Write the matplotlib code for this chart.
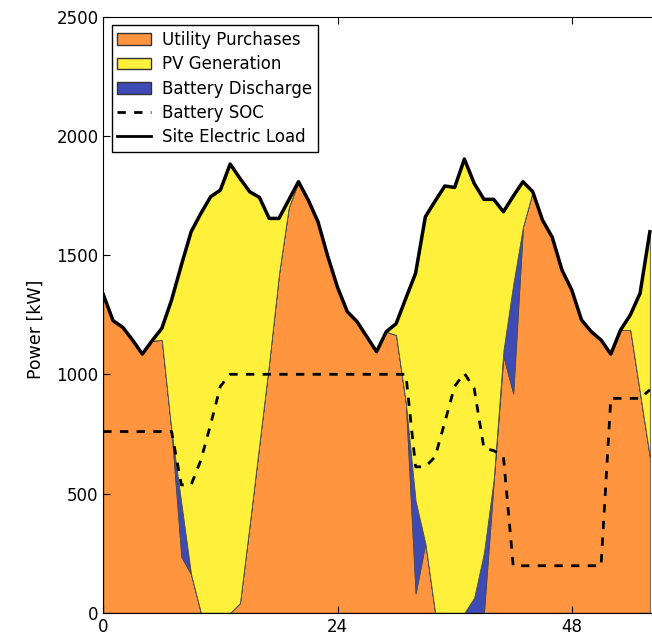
import matplotlib
matplotlib.use("Agg")
import matplotlib.pyplot as plt
import matplotlib.patches as mpatches
import matplotlib.lines as mlines
import numpy as np

# hourly dispatch, first 57 hours of the run
hours = list(range(57))

load = [1335, 1225, 1197, 1144, 1085, 1141, 1193, 1312, 1458, 1598,
        1675, 1745, 1773, 1882, 1822, 1766, 1742, 1654, 1654, 1731,
        1808, 1731, 1640, 1495, 1365, 1263, 1221, 1158, 1095, 1179,
        1212, 1319, 1424, 1661, 1727, 1790, 1784, 1903, 1801, 1734,
        1734, 1682, 1747, 1808, 1766, 1647, 1575, 1437, 1354, 1228,
        1179, 1144, 1085, 1186, 1249, 1340, 1598]

utility = [1335, 1225, 1197, 1144, 1085, 1141, 1144, 759, 235, 160,
           0, 0, 0, 0, 40, 371, 711, 1051, 1420, 1700,
           1808, 1731, 1640, 1495, 1365, 1263, 1221, 1158, 1095, 1179,
           1165, 880, 81, 291, 0, 0, 0, 0, 0, 0,
           550, 1075, 920, 1619, 1766, 1647, 1575, 1437, 1354, 1228,
           1179, 1144, 1085, 1186, 1186, 920, 654]

battery = [0, 0, 0, 0, 0, 0, 0, 0, 224, 0,
           0, 0, 0, 0, 0, 0, 0, 0, 0, 0,
           0, 0, 0, 0, 0, 0, 0, 0, 0, 0,
           0, 0, 388, 0, 0, 0, 0, 0, 63, 251,
           10, 26, 457, 0, 0, 0, 0, 0, 0, 0,
           0, 0, 0, 0, 0, 0, 0]

soc = [760, 760, 760, 760, 760, 760, 760, 760, 536, 536,
       640, 790, 950, 1000, 1000, 1000, 1000, 1000, 1000, 1000,
       1000, 1000, 1000, 1000, 1000, 1000, 1000, 1000, 1000, 1000,
       1000, 1000, 612, 612, 654, 800, 950, 1004, 941, 690,
       680, 654, 197, 197, 197, 197, 197, 197, 197, 197,
       197, 197, 899, 899, 899, 899, 935]

pv = np.array(load) - np.array(utility) - np.array(battery)

c_util = "#FF953F"
c_pv = "#FFF03C"
c_batt = "#3E4BB4"

plt.rcParams["font.family"] = "DejaVu Sans"
plt.rcParams["font.size"] = 12
plt.rcParams["lines.scale_dashes"] = False

fig = plt.figure(figsize=(6.52, 6.34), dpi=100)
# axes run past the right edge of the picture, like the original crop
ax = fig.add_axes([0.1584, 0.0336, 1.0778, 0.940])

ax.stackplot(hours, utility, battery, pv, colors=[c_util, c_batt, c_pv],
             edgecolor="#4a4a4a", linewidth=0.6)
ax.plot(hours, soc, color="k", lw=2, dashes=(6, 6))
ax.plot(hours, load, color="k", lw=2.5)

ax.set_xlim(0, 72)
ax.set_ylim(0, 2500)
ax.set_xticks([0, 24, 48, 72])
ax.set_yticks([0, 500, 1000, 1500, 2000, 2500])
ax.tick_params(direction="in", top=True, right=True, length=5, labelsize=12)
ax.set_ylabel("Power [kW]", fontsize=12.5)
ax.yaxis.set_label_coords(-0.084, 0.475)

handles = [
    mpatches.Patch(facecolor=c_util, edgecolor="#333333", label="Utility Purchases"),
    mpatches.Patch(facecolor=c_pv, edgecolor="#333333", label="PV Generation"),
    mpatches.Patch(facecolor=c_batt, edgecolor="#333333", label="Battery Discharge"),
    mlines.Line2D([], [], color="k", lw=2, dashes=(6, 6), label="Battery SOC"),
    mlines.Line2D([], [], color="k", lw=2, label="Site Electric Load"),
]
leg = ax.legend(handles=handles, loc="upper left", fontsize=12, fancybox=False,
                framealpha=1, edgecolor="k", borderaxespad=0.5,
                labelspacing=0.38, borderpad=0.35, handletextpad=0.7)
leg.get_frame().set_linewidth(1.0)

fig.savefig("out.png", dpi=100)
